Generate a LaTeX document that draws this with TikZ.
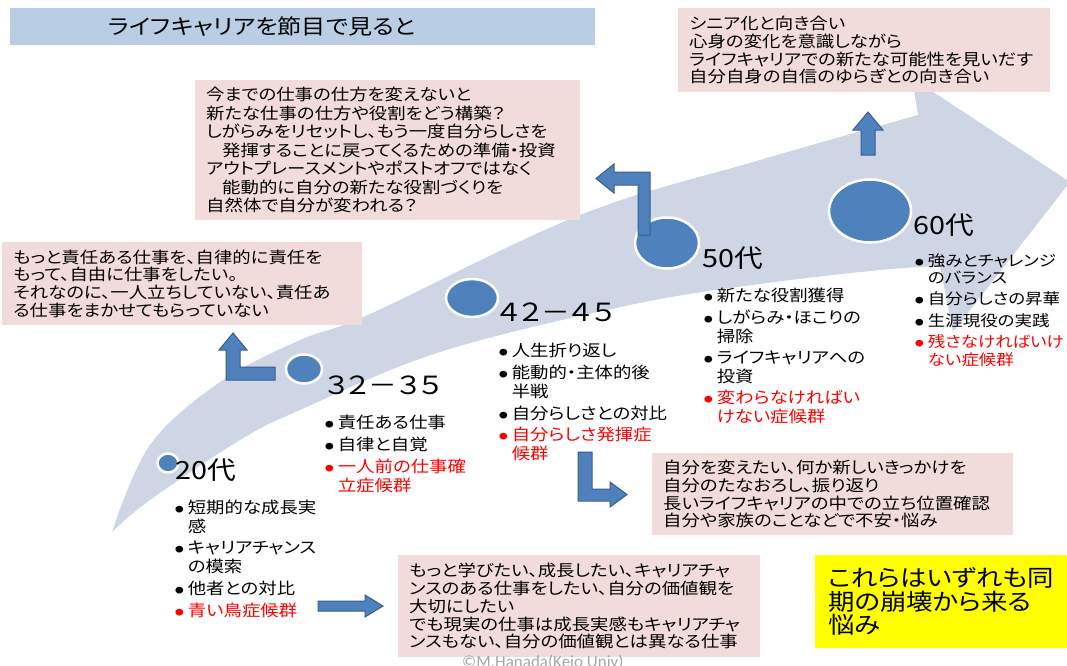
\documentclass[tikz,border=0pt]{standalone}
\usepackage{fontspec}
\setmainfont{Noto Sans CJK JP}[RawFeature=+palt, FakeStretch=1.15]
\newfontfamily\latinfont{Carlito}
\usetikzlibrary{shapes.geometric}
\definecolor{bandc}{HTML}{CED6E6}
\definecolor{pinkc}{HTML}{F2DCDB}
\definecolor{titlec}{HTML}{B9CDE5}
\definecolor{circc}{HTML}{4F81BD}
\definecolor{arrc}{HTML}{4F81BD}
\definecolor{arrd}{HTML}{385D8A}
\definecolor{copyc}{HTML}{A6A6A6}
\definecolor{redc}{HTML}{FF0000}
\definecolor{yelc}{HTML}{FFFF00}
\newcommand{\rtx}[1]{\textcolor{redc}{#1}}
\newcommand{\bul}{\raisebox{1pt}{\fontsize{7.5}{8}\selectfont ●}}
\begin{document}
\begin{tikzpicture}[x=1pt,y=-1pt,
  pinkbox/.style={fill=pinkc, anchor=north west, inner xsep=11pt, inner ysep=0pt, align=left, font=\fontsize{16}{17.8}\selectfont},
  circ/.style={ellipse, draw=white, line width=2.5pt, fill=circc, inner sep=0pt},
  agelbl/.style={anchor=west, inner sep=0pt, font=\fontsize{25}{27}\selectfont},
  agenum/.style={anchor=west, inner sep=0pt, font=\fontsize{25}{27}\selectfont},
  lst/.style={anchor=north west, inner sep=0pt, font=\fontsize{16}{17.8}\selectfont},
  blk/.style={fill=arrc, draw=arrd, line width=1pt, line join=miter},
]
\useasboundingbox (0,0) rectangle (1067,665);
\clip (0,0) rectangle (1067,665);

% big curved arrow
\fill[bandc] plot[smooth, tension=0.6] coordinates {(112,532) (150,445) (220,382) (300,340) (370,314) (580,215) (760,160) (918,115)}
  -- (912,78) -- (1070,182) -- (953,332) -- (940,266)
  -- plot[smooth, tension=0.6] coordinates {(940,266) (880,270) (760,284) (630,305) (440,352) (300,410) (240,440) (150,500) (112,532)} -- cycle;

% title
\node[fill=titlec, anchor=north west, minimum width=585pt, minimum height=37pt, inner sep=0pt] (titlebox) at (10,8) {};
\node[inner sep=0pt, font=\fontsize{21}{23}\selectfont] (title) at (262,27) {ライフキャリアを節目で見ると};

% pink boxes
\node[pinkbox, text width=363pt, minimum height=140pt, font=\fontsize{16}{18.5}\selectfont] (b1) at (195,80) {今までの仕事の仕方を変えないと\\
新たな仕事の仕方や役割をどう構築？\\
しがらみをリセットし、もう一度自分らしさを\\
\hspace*{16pt}発揮することに戻ってくるための準備・投資\\
アウトプレースメントやポストオフではなく\\
\hspace*{16pt}能動的に自分の新たな役割づくりを\\
自然体で自分が変われる？};

\node[pinkbox, text width=350pt, minimum height=84pt] (b2) at (678,8) {シニア化と向き合い\\
心身の変化を意識しながら\\
ライフキャリアでの新たな可能性を見いだす\\
自分自身の自信のゆらぎとの向き合い};

\node[pinkbox, text width=338pt, minimum height=83pt] (b3) at (2,242) {もっと責任ある仕事を、自律的に責任を\\
もって、自由に仕事をしたい。\\
それなのに、一人立ちしていない、責任あ\\
る仕事をまかせてもらっていない};

\node[pinkbox, text width=339pt, minimum height=82pt] (b4) at (652,453) {自分を変えたい、何か新しいきっかけを\\
自分のたなおろし、振り返り\\
長いライフキャリアの中での立ち位置確認\\
自分や家族のことなどで不安・悩み};

\node[pinkbox, text width=340pt, minimum height=102pt] (b5) at (398,555) {もっと学びたい、成長したい、キャリアチャ\\
ンスのある仕事をしたい、自分の価値観を\\
大切にしたい\\
でも現実の仕事は成長実感もキャリアチャ\\
ンスもない、自分の価値観とは異なる仕事};

% yellow box
\node[fill=yelc, anchor=north west, text width=236pt, minimum height=93pt, inner xsep=13pt, inner ysep=0pt, align=left, font=\fontsize{23}{23.5}\selectfont] (yb) at (815,555) {これらはいずれも同\\
期の崩壊から来る\\
悩み};

% copyright
\node[anchor=base west, inner sep=0pt, text=copyc, font=\latinfont\fontsize{17}{19}\selectfont] (copy) at (462,667) {©M.Hanada(Keio Univ)};

% circles
\node[circ, minimum width=21pt, minimum height=19pt] (c20) at (168,463) {};
\node[circ, minimum width=36pt, minimum height=29pt] (c32) at (304,369) {};
\node[circ, minimum width=52pt, minimum height=38pt] (c42) at (472,298) {};
\node[circ, minimum width=64pt, minimum height=51pt] (c50) at (667,243) {};
\node[circ, minimum width=82pt, minimum height=63pt] (c60) at (870,211) {};

% age labels
\node[agelbl] (a20) at (175,470) {20代};
\node[agenum] (a32) at (325,385) {３２－３５};
\node[agenum] (a42) at (498,312) {４２－４５};
\node[agelbl] (a50) at (702,258) {50代};
\node[agelbl] (a60) at (913,225) {60代};

% lists
\node[lst] (l20) at (175,500) {\begin{tabular}{@{}l@{\hspace{4pt}}l@{}}
\bul&短期的な成長実\\
&感\\[3pt]
\bul&キャリアチャンス\\
&の模索\\[3pt]
\bul&他者との対比\\[3pt]
\rtx{\bul}&\rtx{青い鳥症候群}
\end{tabular}};

\node[lst] (l32) at (325,415) {\begin{tabular}{@{}l@{\hspace{4pt}}l@{}}
\bul&責任ある仕事\\[3pt]
\bul&自律と自覚\\[3pt]
\rtx{\bul}&\rtx{一人前の仕事確}\\
&\rtx{立症候群}
\end{tabular}};

\node[lst] (l42) at (499,343) {\begin{tabular}{@{}l@{\hspace{4pt}}l@{}}
\bul&人生折り返し\\[3pt]
\bul&能動的・主体的後\\
&半戦\\[3pt]
\bul&自分らしさとの対比\\[3pt]
\rtx{\bul}&\rtx{自分らしさ発揮症}\\
&\rtx{候群}
\end{tabular}};

\node[lst] (l50) at (704,288) {\begin{tabular}{@{}l@{\hspace{4pt}}l@{}}
\bul&新たな役割獲得\\[3pt]
\bul&しがらみ・ほこりの\\
&掃除\\[3pt]
\bul&ライフキャリアへの\\
&投資\\[3pt]
\rtx{\bul}&\rtx{変わらなければい}\\
&\rtx{けない症候群}
\end{tabular}};

\node[lst, font=\fontsize{15.2}{17.8}\selectfont] (l60) at (915,253) {\begin{tabular}{@{}l@{\hspace{4pt}}l@{}}
\bul&強みとチャレンジ\\
&のバランス\\[3pt]
\bul&自分らしさの昇華\\[3pt]
\bul&生涯現役の実践\\[3pt]
\rtx{\bul}&\rtx{残さなければいけ}\\
&\rtx{ない症候群}
\end{tabular}};

% block arrows
\filldraw[blk] (318,601) -- (365,601) -- (365,595) -- (383,606) -- (365,617) -- (365,611) -- (318,611) -- cycle;
\filldraw[blk] (275,367) -- (240,367) -- (240,350) -- (247,350) -- (233,333) -- (219,350) -- (226,350) -- (226,380) -- (275,380) -- cycle;
\filldraw[blk] (638,235) -- (650,235) -- (650,172) -- (614,172) -- (614,164) -- (596,178.5) -- (614,193) -- (614,185) -- (638,185) -- cycle;
\filldraw[blk] (861,155) -- (861,130) -- (853,130) -- (868,112) -- (883,130) -- (875,130) -- (875,155) -- cycle;
\filldraw[blk] (578,452) -- (592,452) -- (592,489) -- (610,489) -- (610,482) -- (627,494.5) -- (610,507) -- (610,501) -- (578,501) -- cycle;
\end{tikzpicture}
\end{document}
